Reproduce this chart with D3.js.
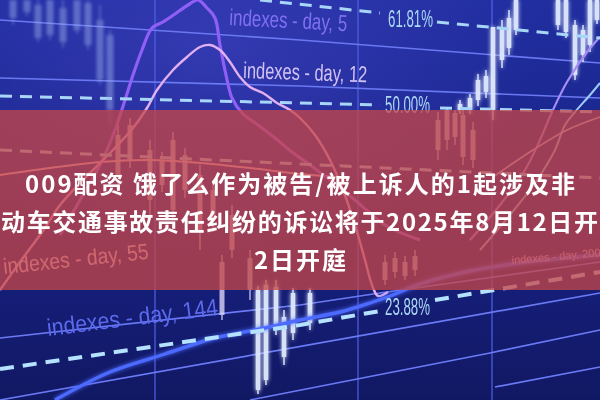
<!DOCTYPE html>
<html><head><meta charset="utf-8">
<script src="https://cdn.jsdelivr.net/npm/d3@7"></script>
<style>html,body{margin:0;padding:0;background:#141c78;overflow:hidden}</style>
</head><body><svg id="c" width="600" height="400"></svg>
<script>
// ---------- data ----------
const titleLines = ["009配资 饿了么作为被告/被上诉人的1起涉及非", "动车交通事故责任纠纷的诉讼将于2025年8月12日开", "2日开庭"];
const fibLabels = ["61.81%", "50.00%", "23.88%"];
const indexLabels = ["indexes - day, 5", "indexes - day, 12", "indexes - day, 55", "indexes - day, 144", "indexes - day, 200"];
const gridDays = [31, 71.6, 98.4];
const bandRange = [55, 145];

const trendTop1 = [[0,190],[60,180],[120,168.5]];
const trendTop2 = [[0,161],[60,157],[120,151]];
const trendLow1 = [[0,0],[120,53.5]];
const trendLow2 = [[50,0],[98,23.5],[120,35]];
const trendLow3 = [[99,6.5],[120,16.5]];
const trendLow4 = [[0,31],[60,47.5],[76,53.5],[120,69]];

const fib61a = [[52,200],[76,193.5]];
const fib61b = [[87.4,189],[120,181]];
const fib50a = [[0,152],[60,148.5],[76,147.5]];
const fib50b = [[88,146],[120,144]];
const fib38 = [[0,125],[120,111]];
const fib23a = [[0,15.5],[60,37.5],[76,44.5]];
const fib23b = [[87,50],[120,64]];

const ma5 = [[12,82.5],[16,100],[20,117.5],[23,135],[25,150],[26.6,162.5],[28.4,175],[30.4,186],[32.6,189],[35,193],[37.6,197.5],[39.6,200],[41.4,196],[43,191],[44,177.5],[45.2,162.5],[46.4,151],[48.4,143.5],[51.6,137.5],[55,131],[58.4,124],[62,117.5],[66,110],[71,100],[77,87.5],[84,80]];
const ma12 = [[0,55],[4,69],[9,86],[12,97.5],[17,111],[22,123.5],[26.6,136],[29.4,146],[31.4,155],[34.6,165],[37.4,171.5],[40,176.5],[42,177.5],[44,175],[46,169],[48,161.5],[50,156.5],[52.6,153.5],[55.4,148.5],[58,145],[60,141],[63,132.5],[66,120],[68.6,105],[71,87.5],[73,70],[74.4,57.5],[75.6,52],[77.6,54]];
const ma34 = [[0,112.5],[10,116],[20,119],[30,120],[40,118.5],[50,116],[60,113],[70,111]];
const ma144 = [[11,0],[22,14],[33,23],[43,31],[53,36],[60,40],[68,44],[74,48.5],[78,52],[84,58],[94,64.5],[104,68.5],[120,72.5]];
const maR1 = [[94,80],[100,97.5],[105,115],[108,130],[110.4,144],[113.4,159],[117.4,174],[120,181.5]];
const maR2 = [[96,75],[102,92.5],[107.4,110],[111,125],[113,137.5],[115,144],[118,152.5],[120,158.5]];
const maR3 = [[98.6,111.5],[106.6,125],[113.4,135],[120,141.5]];

// candles: [day, open, high, low, close]
const candlesFaint = [[2.6,191,200,187.5,200],[5.4,194,200,192,200],[7.6,181,200,179,197.5],[10,182.5,200,180,200],[12.6,179,200,176,196],[15.4,185,200,183,200],[17.6,177.5,200,175,198.5],[20,160,197.5,157.5,190],[22,145,185,137.5,182.5]];
const candlesBand = [[23.6,112.5,137.5,107.5,132.5],[26,120,141,116,137.5],[30,100,130,92.5,125],[32.4,107.5,124,104,120],[34.6,95,134,90,130],[37,105,126,101,122.5],[40,85,117.5,75,112.5],[42.6,90,110,84,105],[44.4,42.5,72.5,40,69],[46.4,75,97.5,71,92.5],[50,55,75,50,71],[77,60,72.5,57.5,69],[79,64,74,61,71],[81,62,72,60,69],[83,65,75,62,72],[87.6,125,144,120,140],[89.4,130,146,125,145],[91,131.5,145,127.5,143.5],[92.6,121.5,145,117.5,142.5],[94.6,120,139,116,135]];
const candlesBright = [[92,145,150,143,148],[94,145,153,143,151],[95.6,150,163,147,160],[97.2,154,165,151,162],[98.6,145,186.5,140,186.5],[100.4,170,190,166,186],[101.8,176,195,172.5,191],[103.2,185,200,182.5,200],[111.6,187.5,200,185,200],[113.2,184,200,181,200],[115,162.5,190,160,187.5],[116.6,172.5,187.5,169,185],[118,177.5,200,174,200],[119.4,190,200,188,200],[51.6,5,57,3,55],[53.2,10,60,7.5,57.5],[55.2,36.5,60,32.5,56.5],[56.8,21.5,45,17.5,41.5],[58.6,33.5,56,30,53.5],[62,38.5,56,35,53.5]];

// ---------- setup ----------
const W = 600, H = 400;
const svg = d3.select("#c");
const x = d3.scaleLinear().domain([0,120]).range([0,W]);
const y = d3.scaleLinear().domain([0,200]).range([H,0]);
const line = d3.line().x(d => x(d[0])).y(d => y(d[1])).curve(d3.curveCatmullRom.alpha(0.5));
const straight = d3.line().x(d => x(d[0])).y(d => y(d[1]));

const defs = svg.append("defs");
const bg = defs.append("linearGradient").attr("id","bg").attr("x1",0).attr("y1",0).attr("x2",0).attr("y2",1);
bg.append("stop").attr("offset","0%").attr("stop-color","#202ea0");
bg.append("stop").attr("offset","55%").attr("stop-color","#182284");
bg.append("stop").attr("offset","100%").attr("stop-color","#111863");
const glow = defs.append("radialGradient").attr("id","glow").attr("cx","35%").attr("cy","10%").attr("r","55%");
glow.append("stop").attr("offset","0%").attr("stop-color","#3d3fbb").attr("stop-opacity",0.7);
glow.append("stop").attr("offset","100%").attr("stop-color","#3d3fbb").attr("stop-opacity",0);
const soft = defs.append("filter").attr("id","soft").attr("x","-10%").attr("y","-10%").attr("width","120%").attr("height","120%");
soft.append("feGaussianBlur").attr("stdDeviation",0.7);
const blur2 = defs.append("filter").attr("id","blur2").attr("x","-20%").attr("y","-20%").attr("width","140%").attr("height","140%");
blur2.append("feGaussianBlur").attr("stdDeviation",1.6);
const gl = defs.append("filter").attr("id","gl").attr("x","-20%").attr("y","-20%").attr("width","140%").attr("height","140%");
gl.append("feGaussianBlur").attr("in","SourceGraphic").attr("stdDeviation",2.2).attr("result","b");
const m = gl.append("feMerge"); m.append("feMergeNode").attr("in","b"); m.append("feMergeNode").attr("in","SourceGraphic");

svg.append("rect").attr("width",W).attr("height",H).attr("fill","url(#bg)");
svg.append("rect").attr("width",W).attr("height",H).attr("fill","url(#glow)");

const g = svg.append("g").attr("filter","url(#soft)");

// grid verticals
g.selectAll(".vg").data(gridDays).enter().append("line")
  .attr("x1",d=>x(d)).attr("x2",d=>x(d)).attr("y1",0).attr("y2",H)
  .attr("stroke","#5262e8").attr("stroke-width",1.6).attr("opacity",0.75);

// trend lines
[trendTop1,trendTop2].forEach(s => g.append("path").attr("d",straight(s)).attr("fill","none").attr("stroke","#6a78f2").attr("stroke-width",1.6));
[trendLow1,trendLow2,trendLow3,trendLow4].forEach(s => g.append("path").attr("d",straight(s)).attr("fill","none").attr("stroke","#6b7af5").attr("stroke-width",1.7));

function drawCandles(sel, data, color, w, op, filt){
  const cg = sel.append("g").attr("opacity",op);
  if (filt) cg.attr("filter",filt);
  cg.selectAll("line").data(data).enter().append("line")
    .attr("x1",d=>x(d[0])).attr("x2",d=>x(d[0])).attr("y1",d=>y(d[2])).attr("y2",d=>y(d[3]))
    .attr("stroke",color).attr("stroke-width",1.5);
  cg.selectAll("rect").data(data).enter().append("rect")
    .attr("x",d=>x(d[0])-w/2).attr("width",w)
    .attr("y",d=>y(Math.max(d[1],d[4]))).attr("height",d=>Math.abs(y(d[1])-y(d[4])))
    .attr("fill",color);
}
drawCandles(svg, candlesFaint, "#9fb3ee", 7, 0.45, "url(#blur2)");
drawCandles(g, candlesBand, "#e6e0ff", 5, 0.75, null);
drawCandles(g, candlesBright, "#e2ecff", 4.5, 0.95, "url(#gl)");

// moving averages
g.append("path").attr("d",line(ma34)).attr("fill","none").attr("stroke","#f3c4e0").attr("stroke-width",2);
g.append("path").attr("d",line(ma5)).attr("fill","none").attr("stroke","#8f5ef6").attr("stroke-width",3.2);
g.append("path").attr("d",line(ma12)).attr("fill","none").attr("stroke","#e2b0f2").attr("stroke-width",2.4);
g.append("path").attr("d",line(maR1)).attr("fill","none").attr("stroke","#a78cf6").attr("stroke-width",2.2);
g.append("path").attr("d",line(maR2)).attr("fill","none").attr("stroke","#9ccaf7").attr("stroke-width",2);
g.append("path").attr("d",line(maR3)).attr("fill","none").attr("stroke","#c8c0f5").attr("stroke-width",1.6);
g.append("path").attr("d",line(ma144)).attr("fill","none").attr("stroke","#4d6bff").attr("stroke-width",3.4).attr("filter","url(#gl)");

// fib dashed lines
[fib61a,fib61b,fib50a,fib50b,fib38].forEach(s => g.append("path").attr("d",straight(s)).attr("fill","none")
  .attr("stroke","#a7d6f8").attr("stroke-width",3).attr("stroke-dasharray","12,8"));
[fib23a,fib23b].forEach(s => g.append("path").attr("d",straight(s)).attr("fill","none")
  .attr("stroke","#b4e2ff").attr("stroke-width",4).attr("stroke-dasharray","14,9"));

// fib labels (anchor day, value, length)
const fibLayout = [[77.6,186.5,45],[77,143.5,45],[77,42.5,45]];
g.selectAll(".fl").data(fibLabels).enter().append("text")
  .attr("x",(d,i)=>x(fibLayout[i][0])).attr("y",(d,i)=>y(fibLayout[i][1]))
  .attr("textLength",(d,i)=>fibLayout[i][2]).attr("lengthAdjust","spacingAndGlyphs")
  .attr("font-family","Liberation Sans, Arial, sans-serif").attr("font-size",24)
  .attr("fill","#acd8f6").text(d=>d);

// index labels (day, value, length, rotation, size, color)
const idxLayout = [[0.8,63,146,-6,22,"#ecd4f2"],[45.8,187.5,118,3,23,"#8070f4"],[48.6,161,124,2,23,"#d2c2f4"],[9.6,32,172,-7,24,"#5c69ec"],[102.4,68,null,-5,11,"#d8bce8"]];
const idxOrder = [1,2,0,3,4];
g.selectAll(".il").data(indexLabels).enter().append("text")
  .attr("transform",(d,i)=>{const L=idxLayout[idxOrder[i]]; return `translate(${x(L[0])},${y(L[1])}) rotate(${L[3]})`;})
  .attr("textLength",(d,i)=>idxLayout[idxOrder[i]][2]).attr("lengthAdjust",(d,i)=>idxLayout[idxOrder[i]][2]?"spacingAndGlyphs":null)
  .attr("font-family","Liberation Sans, Arial, sans-serif").attr("font-size",(d,i)=>idxLayout[idxOrder[i]][4])
  .attr("fill",(d,i)=>idxLayout[idxOrder[i]][5]).text(d=>d);

// red band
svg.append("rect").attr("x",0).attr("width",W)
  .attr("y",y(bandRange[1])).attr("height",y(bandRange[0])-y(bandRange[1]))
  .attr("fill","rgb(198,70,70)").attr("opacity",0.76);

// title
const titleLayout = [[25,182,550],[1,220,597],[254,258,92]];
svg.selectAll(".t").data(titleLines).enter().append("text")
  .attr("x",(d,i)=>titleLayout[i][0]).attr("y",(d,i)=>titleLayout[i][1])
  .attr("textLength",(d,i)=>titleLayout[i][2]).attr("lengthAdjust","spacing")
  .attr("dominant-baseline","central")
  .attr("font-family","'Noto Sans CJK SC', sans-serif").attr("font-weight",700).attr("font-size",24)
  .attr("fill","#ffffff").text(d=>d);
</script></body></html>
